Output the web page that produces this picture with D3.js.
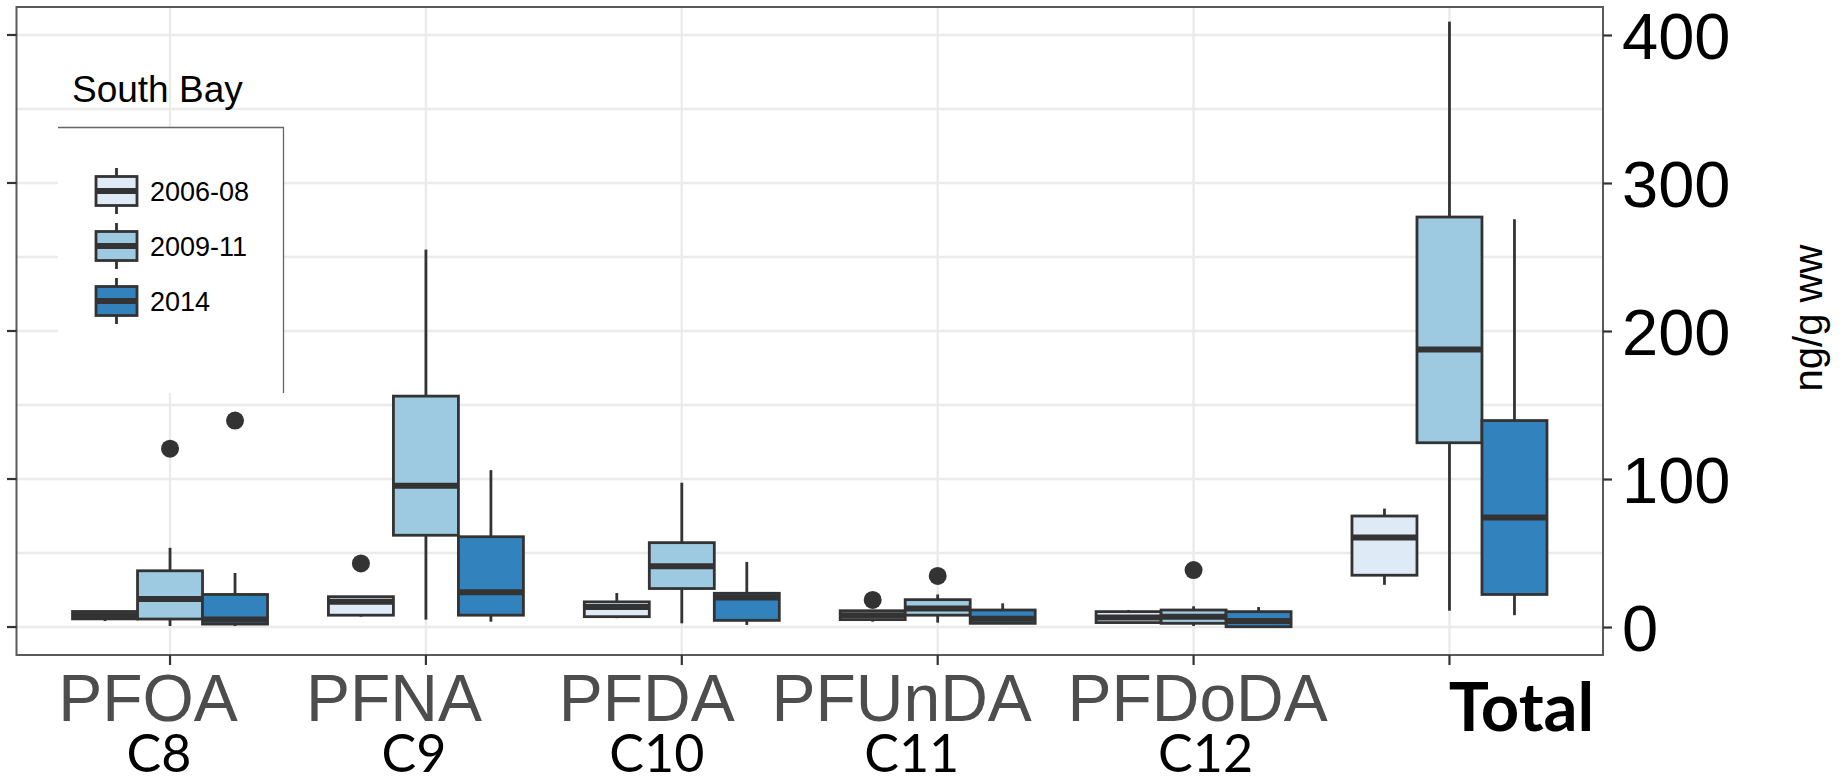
<!DOCTYPE html>
<html>
<head>
<meta charset="utf-8">
<script src="https://cdn.jsdelivr.net/npm/d3@7"></script>
<style>
  html, body { margin: 0; padding: 0; background: #fff; }
  svg { display: block; font-family: "Liberation Sans", Arial, sans-serif; }
  .grid line { stroke: #ebebeb; stroke-width: 2.5; }
  .box rect { stroke: #333; stroke-width: 2.8; }
  .box .whisker { stroke: #333; stroke-width: 2.8; }
  .box .median { stroke: #333; stroke-width: 6; }
  .outlier { fill: #333; }
  .frame { fill: none; stroke: #5a5a5a; stroke-width: 2; }
  .tick-mark { stroke: #333; stroke-width: 2.2; }
  .axis-y text { font-size: 65px; fill: #000; }
  .cat-label { font-size: 66px; fill: #4d4d4d; }
  .chain-label { font-family: Lato, "Open Sans", sans-serif; font-size: 52px; fill: #000; }
  .total-label { font-family: Lato, "Open Sans", sans-serif; font-weight: 700; font-size: 67px; fill: #000; }
  .legend-title { font-size: 37px; fill: #000; }
  .legend-label { font-size: 27px; fill: #000; }
</style>
</head>
<body>
<svg id="chart" width="1845" height="780"></svg>
<script>
// categories on the x axis
var categories = ["PFOA", "PFNA", "PFDA", "PFUnDA", "PFDoDA", "Total"];
var chainLabels = ["C8", "C9", "C10", "C11", "C12"];
var periods = ["2006-08", "2009-11", "2014"];

// box stats per category: [lower whisker, q1, median, q3, upper whisker] (ng/g ww)
var stats2006 = [
  [4, 5.5, 8, 10.5, 11],
  [7, 8, 17, 20.5, 20.5],
  [6, 7, 13.5, 17, 23],
  [3.6, 5, 8, 11, 11],
  [2.5, 3, 6.5, 10.4, 11.5],
  [28.5, 35, 60.5, 75, 80]
];
var stats2009 = [
  [0.7, 5.4, 19, 38, 53.5],
  [5, 62, 95.5, 156, 255],
  [2.5, 26, 41, 57, 97.5],
  [3, 8, 12.5, 18.5, 22],
  [0.7, 2.5, 7, 11.5, 14],
  [11, 124.5, 187.5, 277, 409]
];
var stats2014 = [
  [0.7, 2, 5, 22, 36.5],
  [3.6, 8, 23.5, 61, 106],
  [1.4, 4.5, 20, 22.8, 44],
  [2, 2.5, 5.6, 11.5, 16],
  [0, 0.2, 4, 10.4, 13.5],
  [8, 22, 74, 139.5, 275.5]
];

// outliers per category
var outliers2006 = [[], [43], [], [18.3], [], []];
var outliers2009 = [[120.5], [], [], [34.5], [38.5], []];
var outliers2014 = [[139.5], [], [], [], [], []];

var statsByPeriod = [stats2006, stats2009, stats2014];
var outliersByPeriod = [outliers2006, outliers2009, outliers2014];
var periodColors = ["#deebf7", "#9ecae1", "#3182bd"];

var svg = d3.select("#chart");
var panel = { left: 16.5, right: 1603, top: 7, bottom: 655 };

// scales
var x = d3.scalePoint().domain(categories).range([panel.left, panel.right]).padding(0.6);
var y = d3.scaleLinear().domain([-18.9, 418.9]).range([panel.bottom, panel.top]);
var boxWidth = 65;
var dodge = d3.scaleBand().domain(periods).range([-1.5 * boxWidth, 1.5 * boxWidth]);

var majorTicks = y.ticks(5);
var minorTicks = majorTicks.slice(0, -1).map(function (d, i) { return (d + majorTicks[i + 1]) / 2 });

// grid
var grid = svg.append("g").attr("class", "grid");
grid.selectAll(".h")
  .data(majorTicks.concat(minorTicks)).enter()
  .append("line")
  .attr("x1", panel.left).attr("x2", panel.right)
  .attr("y1", function (d) { return y(d) }).attr("y2", function (d) { return y(d) });
grid.selectAll(".v")
  .data(categories).enter()
  .append("line")
  .attr("x1", function (d) { return x(d) }).attr("x2", function (d) { return x(d) })
  .attr("y1", panel.top).attr("y2", panel.bottom);

// boxes
var rows = [];
periods.forEach(function (p, pi) {
  categories.forEach(function (c, ci) {
    var s = statsByPeriod[pi][ci];
    rows.push({
      period: p, cat: c, color: periodColors[pi],
      lo: s[0], q1: s[1], med: s[2], q3: s[3], hi: s[4],
      out: outliersByPeriod[pi][ci]
    });
  });
});

var boxes = svg.append("g").selectAll(".box")
  .data(rows).enter()
  .append("g")
  .attr("class", "box")
  .attr("transform", function (d) { return "translate(" + (x(d.cat) + dodge(d.period) + dodge.bandwidth() / 2) + ",0)" });

boxes.append("line").attr("class", "whisker")
  .attr("y1", function (d) { return y(d.hi) }).attr("y2", function (d) { return y(d.q3) });
boxes.append("line").attr("class", "whisker")
  .attr("y1", function (d) { return y(d.q1) }).attr("y2", function (d) { return y(d.lo) });
boxes.append("rect")
  .attr("x", -boxWidth / 2).attr("width", boxWidth)
  .attr("y", function (d) { return y(d.q3) })
  .attr("height", function (d) { return y(d.q1) - y(d.q3) })
  .attr("fill", function (d) { return d.color });
boxes.append("line").attr("class", "median")
  .attr("x1", -boxWidth / 2).attr("x2", boxWidth / 2)
  .attr("y1", function (d) { return y(d.med) }).attr("y2", function (d) { return y(d.med) });
boxes.selectAll(".outlier")
  .data(function (d) { return d.out }).enter()
  .append("circle").attr("class", "outlier")
  .attr("r", 9)
  .attr("cy", function (d) { return y(d) });

// panel frame
svg.append("rect").attr("class", "frame")
  .attr("x", panel.left).attr("y", panel.top)
  .attr("width", panel.right - panel.left).attr("height", panel.bottom - panel.top);

// left ticks (no labels)
svg.append("g").selectAll("line")
  .data(majorTicks).enter()
  .append("line").attr("class", "tick-mark")
  .attr("x1", panel.left - 9.5).attr("x2", panel.left)
  .attr("y1", function (d) { return y(d) }).attr("y2", function (d) { return y(d) });

// right axis with labels
var yAxis = d3.axisRight(y).tickValues(majorTicks).tickSize(9).tickPadding(10);
var yAxisG = svg.append("g").attr("class", "axis-y")
  .attr("transform", "translate(" + panel.right + ",0)")
  .call(yAxis);
yAxisG.select(".domain").remove();
yAxisG.selectAll(".tick line").attr("class", "tick-mark").attr("stroke", null);
yAxisG.selectAll(".tick text").attr("font-family", null).attr("font-size", null).attr("fill", null).attr("dy", "0.36em");

svg.append("text")
  .attr("transform", "translate(1822,318) rotate(-90)")
  .attr("text-anchor", "middle")
  .style("font-size", "40px")
  .text("ng/g ww");

// bottom ticks
svg.append("g").selectAll("line")
  .data(categories).enter()
  .append("line").attr("class", "tick-mark")
  .attr("x1", function (d) { return x(d) }).attr("x2", function (d) { return x(d) })
  .attr("y1", panel.bottom).attr("y2", panel.bottom + 10);

// category labels (hand nudged like the original)
var catNudge = [-22, -32, -35, -36, 4];
var chainNudge = [-11, -12, -25, -26, 12];
svg.append("g").selectAll("text")
  .data(categories.slice(0, 5)).enter()
  .append("text").attr("class", "cat-label")
  .attr("text-anchor", "middle")
  .attr("x", function (d, i) { return x(d) + catNudge[i] })
  .attr("y", 721)
  .text(function (d) { return d });
svg.append("g").selectAll("text")
  .data(chainLabels).enter()
  .append("text").attr("class", "chain-label")
  .attr("text-anchor", "middle")
  .attr("x", function (d, i) { return x(categories[i]) + chainNudge[i] })
  .attr("y", 772)
  .text(function (d) { return d });
svg.append("text").attr("class", "total-label")
  .attr("text-anchor", "middle")
  .attr("x", x("Total") + 72)
  .attr("y", 731)
  .text("Total");

// legend
var legend = svg.append("g");
legend.append("text").attr("class", "legend-title")
  .attr("x", 72).attr("y", 102)
  .text("South Bay");
legend.append("rect")
  .attr("x", 58).attr("y", 127).attr("width", 226).attr("height", 266)
  .attr("fill", "#fff");
legend.append("path")
  .attr("d", "M58,127.5H283.5V393")
  .attr("fill", "none").attr("stroke", "#666").attr("stroke-width", 1.3);

var keys = legend.selectAll(".key")
  .data(periods).enter()
  .append("g")
  .attr("class", "box")
  .attr("transform", function (d, i) { return "translate(116.5," + (191 + i * 55) + ")" });
keys.append("line").attr("class", "whisker").attr("y1", -23).attr("y2", 23);
keys.append("rect")
  .attr("x", -20.5).attr("width", 41).attr("y", -14.5).attr("height", 29)
  .attr("fill", function (d, i) { return periodColors[i] });
keys.append("line").attr("class", "median")
  .attr("x1", -20.5).attr("x2", 20.5).attr("stroke-width", 5);
keys.append("text").attr("class", "legend-label")
  .attr("x", 33.5).attr("dy", "0.36em")
  .text(function (d) { return d });
</script>
</body>
</html>
